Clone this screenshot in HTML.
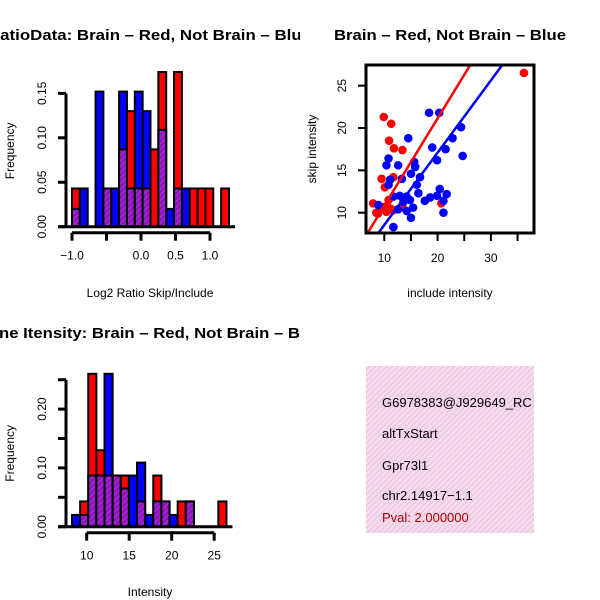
<!DOCTYPE html>
<html><head><meta charset="utf-8"><style>
html,body{margin:0;padding:0;background:#fff;}
svg{display:block;font-family:"Liberation Sans",sans-serif;}
</style></head><body>
<svg id="s" width="600" height="600" viewBox="0 0 600 600" xmlns="http://www.w3.org/2000/svg">
<defs>
<pattern id="hatch" width="4" height="4" patternUnits="userSpaceOnUse" patternTransform="rotate(45)">
<rect width="4" height="4" fill="#a020f0"/><rect width="2" height="4" fill="#8b1a9a"/>
</pattern>
<pattern id="pink" width="4" height="4" patternUnits="userSpaceOnUse" patternTransform="rotate(45)">
<rect width="4" height="4" fill="#f8d8f0"/><rect width="1" height="4" fill="#e0c8d0"/>
</pattern>
<clipPath id="boxclip"><rect x="366" y="65" width="168" height="168"/></clipPath>
<clipPath id="infoclip"><rect x="366" y="366" width="168" height="167"/></clipPath>
<clipPath id="leftclip"><rect x="0" y="0" width="300" height="600"/></clipPath>
</defs>
<g id="g1" clip-path="url(#leftclip)"></g>
<g id="g2"></g>
<g id="g3" clip-path="url(#leftclip)"></g>
<g>
<rect x="366" y="366" width="168" height="167" fill="url(#pink)"/>
<g clip-path="url(#infoclip)" font-size="13">
<text x="382" y="407">G6978383@J929649_RC</text>
<text x="382" y="438">altTxStart</text>
<text x="382" y="470">Gpr73l1</text>
<text x="382" y="500">chr2.14917−1.1</text>
<text x="382" y="522" fill="#b00000">Pval: 2.000000</text>
</g></g>
</svg>
<script>
// Ratio histogram data
const ratioRed  = [0.043,0,0,0,0.043,0,0.087,0.13,0.043,0.043,0.087,0.174,0,0.174,0,0.043,0.043,0.043,0,0.043];
const ratioBlue = [0.02,0.043,0,0.152,0.043,0.043,0.152,0.043,0.152,0.13,0,0.109,0.02,0.043,0.043,0,0,0,0,0];
const ratioYTicks = [0,0.05,0.10,0.15];
const ratioYLabels = ["0.00","0.05","0.10","0.15"];
const ratioXTicks = [-1.0,-0.5,0.0,0.5,1.0];
const ratioXLabels = ["−1.0","","0.0","0.5","1.0"];
// Intensity histogram data
const intRed  = [0,0.043,0.26,0.13,0.087,0.087,0.087,0,0.043,0,0.087,0.043,0,0.043,0.043,0,0,0,0.043];
const intBlue = [0.02,0.02,0.087,0.087,0.26,0.087,0.065,0.087,0.109,0.02,0.043,0.043,0.02,0,0.043,0,0,0,0];
const intYTicks = [0,0.05,0.10,0.15,0.20,0.25];
const intYLabels = ["0.00","","0.10","","0.20",""];
const intXTicks = [10,15,20,25];
const intXLabels = ["10","15","20","25"];
// Scatter data
const redX = [9.9,11.3,10.9,11.8,13.4,7.9,8.5,8.8,10.1,10.4,11.1,9.5,10.1,11.7,10.8,36.2,20.7,9.2,11.7,13.4];
const redY = [21.3,20.5,18.5,17.6,17.4,11.1,10.0,9.9,10.7,10.1,10.5,14.0,13.0,14.2,11.5,26.5,11.1,10.7,10.3,10.7];
const blueX = [18.4,20.3,14.5,24.4,22.8,19.0,21.5,24.7,10.8,10.4,12.6,15.6,15.8,15.0,19.9,11.1,10.8,13.3,16.7,16.1,11.7,12.9,14.2,14.8,13.6,17.6,18.6,19.9,20.4,21.7,21.1,21.1,14.2,15.4,12.6,8.9,15.0,11.7,16.4];
const blueY = [21.8,21.8,18.8,20.1,18.8,17.7,17.5,16.7,16.4,15.6,15.6,16.0,15.4,14.6,16.2,13.9,13.3,14.0,14.2,13.3,11.9,12.0,11.9,11.5,11.3,11.4,11.8,12.0,12.8,12.2,11.4,10.0,10.2,10.6,10.4,10.9,9.4,8.3,12.3];
const fitRed = [0.53,1.03];
const fitBlue = [0.03,0.853];
const scXTicks = [10,15,20,25,30,35];
const scXLabels = ["10","","20","","30",""];
const scYTicks = [10,15,20,25];
const scYLabels = ["10","15","20","25"];

const NS="http://www.w3.org/2000/svg";
function mk(parent,tag,attrs){const e=document.createElementNS(NS,tag);for(const k in attrs)e.setAttribute(k,attrs[k]);parent.appendChild(e);return e;}

function hist(g,red,blue,x0,bw,y0,sy,yT,yL,xT,xL,xs,title,tx,tlen,tanchor,xlab,ty,xly,yAxisTop){
  const ys=v=>y0-v*sy;
  for(let i=0;i<red.length;i++){
    const r=red[i],b=blue[i];if(r===0&&b===0)continue;
    const x=x0+i*bw,mx=Math.max(r,b),mn=Math.min(r,b);
    const top=mk(g,'rect',{x:x,y:ys(mx),width:bw,height:mx*sy,fill:r>=b?'#ff0000':'#0000ff',stroke:'#000','stroke-width':2});
    
    
    if(mn>0){const p=mk(g,'rect',{x:x,y:ys(mn),width:bw,height:mn*sy,fill:'url(#hatch)',stroke:'#000','stroke-width':2});
      
      }
  }
  const base=mk(g,'line',{x1:58,x2:x0+red.length*bw+6,y1:y0,y2:y0,stroke:'#000','stroke-width':3});
  
  
  const ya=mk(g,'line',{x1:66,x2:66,y1:ys(yT[yT.length-1]),y2:y0,stroke:'#000','stroke-width':3});
  
  
  yT.forEach((v,i)=>{mk(g,'line',{x1:58,x2:66,y1:ys(v),y2:ys(v),stroke:'#000','stroke-width':3});
    if(yL[i]){const t=mk(g,'text',{x:0,y:0,'font-size':12,'text-anchor':'middle',transform:`translate(46,${ys(v)}) rotate(-90)`});t.textContent=yL[i];
      
      }});
  const ax=y0+6;
  const xa=mk(g,'line',{x1:xs(xT[0]),x2:xs(xT[xT.length-1]),y1:ax,y2:ax,stroke:'#000','stroke-width':3});
  
  
  xT.forEach((v,i)=>{mk(g,'line',{x1:xs(v),x2:xs(v),y1:ax,y2:ax+8,stroke:'#000','stroke-width':3});
    if(xL[i]){const t=mk(g,'text',{x:xs(v),y:ax+27,'font-size':12,'text-anchor':'middle'});t.textContent=xL[i];
      
      }});
  const tt=mk(g,'text',{x:tx,y:ty,'font-size':15,'font-weight':'bold','text-anchor':tanchor,textLength:tlen,lengthAdjust:'spacingAndGlyphs'});tt.textContent=title;
  
  
  const xl=mk(g,'text',{x:150,y:xly,'font-size':12,'text-anchor':'middle'});xl.textContent=xlab;
  
  
  const yl=mk(g,'text',{x:0,y:0,'font-size':12,'text-anchor':'middle',transform:`translate(14,${(y0+yAxisTop)/2}) rotate(-90)`});yl.textContent='Frequency';
  
  
}
hist(document.getElementById('g1'),ratioRed,ratioBlue,72,7.85,226.7,889,ratioYTicks,ratioYLabels,ratioXTicks,ratioXLabels,v=>141+v*69,
  'RatioData: Brain – Red, Not Brain – Blue',-12,323,'start','Log2 Ratio Skip/Include',40,297,75);
hist(document.getElementById('g3'),intRed,intBlue,72,8.13,526.7,588,intYTicks,intYLabels,intXTicks,intXLabels,v=>86.7+(v-10)*8.5,
  'ne Itensity: Brain – Red, Not Brain – B',-1,301,'start','Intensity',338,596,380);

// scatter
(function(){
  const g=document.getElementById('g2');
  const xs=v=>384.3+(v-10)*5.33, ys=v=>212.7-(v-10)*8.47;
  const cg=mk(g,'g',{'clip-path':'url(#boxclip)'});
  const draw=(X,Y,c,nm)=>X.forEach((x,i)=>{const p=mk(cg,'circle',{cx:xs(x),cy:ys(Y[i]),r:4.3,fill:c});
    
    });
  draw(redX,redY,'#ff0000','red-point');
  draw(blueX,blueY,'#0000ff','blue-point');
  [[fitRed,'#ff0000','red-fit-line'],[fitBlue,'#0000ff','blue-fit-line']].forEach(([f,c,nm])=>{
    const l=mk(cg,'line',{x1:xs(0),y1:ys(f[0]),x2:xs(45),y2:ys(f[0]+f[1]*45),stroke:c,'stroke-width':2.5});
    
    });
  const b=mk(g,'rect',{x:366,y:65,width:168,height:168,fill:'none',stroke:'#000','stroke-width':3});
  
  
  scXTicks.forEach((v,i)=>{mk(g,'line',{x1:xs(v),x2:xs(v),y1:233,y2:241,stroke:'#000','stroke-width':2});
    if(scXLabels[i]){const t=mk(g,'text',{x:xs(v),y:262,'font-size':12,'text-anchor':'middle'});t.textContent=scXLabels[i];
      
      }});
  scYTicks.forEach((v,i)=>{mk(g,'line',{x1:358,x2:366,y1:ys(v),y2:ys(v),stroke:'#000','stroke-width':2});
    const t=mk(g,'text',{x:0,y:0,'font-size':12,'text-anchor':'middle',transform:`translate(346,${ys(v)}) rotate(-90)`});t.textContent=scYLabels[i];
    
    });
  const tt=mk(g,'text',{x:334,y:40,'font-size':15,'font-weight':'bold','text-anchor':'start',textLength:232,lengthAdjust:'spacingAndGlyphs'});tt.textContent='Brain – Red, Not Brain – Blue';
  
  
  const xl=mk(g,'text',{x:450,y:297,'font-size':12,'text-anchor':'middle'});xl.textContent='include intensity';
  
  
  const yl=mk(g,'text',{x:0,y:0,'font-size':12,'text-anchor':'middle',transform:'translate(316,149) rotate(-90)'});yl.textContent='skip intensity';
  
  
})();
</script>
</body></html>
